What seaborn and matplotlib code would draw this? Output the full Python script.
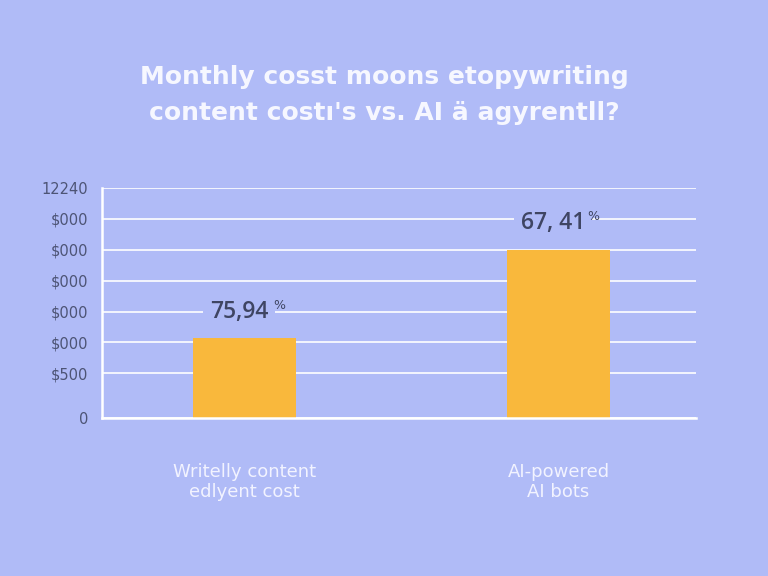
import matplotlib
matplotlib.use("Agg")
import matplotlib.pyplot as plt
import seaborn as sns
import pandas as pd

# data
categories = ["Writelly content\nedlyent cost", "AI-powered\nAI bots"]
costs = [2580, 5450]
bar_labels = ["75,94", "67, 41"]
ytick_values = [0, 1450, 2450, 3450, 4450, 5450, 6450, 7450]
ytick_labels = ["0", "$500", "$000", "$000", "$000", "$000", "$000", "12240"]
title = "Monthly cosst moons etopywriting\ncontent costı's vs. AI ä agyrentll?"

bg = "#b0bbf7"
bar_color = "#f9b83c"
dark = "#3f4563"

sns.set_theme(style="white")
plt.rcParams['font.family'] = ['DejaVu Sans']

df = pd.DataFrame({"category": categories, "cost": costs})

fig = plt.figure(figsize=(7.68, 5.76), dpi=100)
fig.patch.set_facecolor(bg)
ax = fig.add_axes([0.1328, 0.274, 0.7734, 0.3996])
ax.set_facecolor(bg)

sns.barplot(data=df, x="category", y="cost", color=bar_color, width=0.33,
            saturation=1, linewidth=0, ax=ax, zorder=3)

ax.set_xlim(-0.454, 1.438)
ax.set_ylim(0, 7450)
ax.set_yticks(ytick_values)
ax.set_yticklabels(ytick_labels)
ax.yaxis.grid(True, color="white", linewidth=1.4, alpha=0.85, zorder=0)
ax.set_axisbelow(True)

for s in ["top", "right"]:
    ax.spines[s].set_visible(False)
for s in ["left", "bottom"]:
    ax.spines[s].set_color("white")
    ax.spines[s].set_linewidth(1.8)
    ax.spines[s].set_zorder(4)

ax.tick_params(axis="y", length=0, pad=10, labelsize=10.5, labelcolor="#4d5475")
ax.tick_params(axis="x", which="major", length=0, pad=32, labelsize=13,
               labelcolor="#f2f3ff")
ax.set_xticks([-0.377, 0.384, 0.619, 1.377], minor=True)
ax.tick_params(axis="x", which="minor", length=4, width=1.2, color="white",
               direction="inout")
ax.set_xlabel("")
ax.set_ylabel("")

for i, (v, lab) in enumerate(zip(costs, bar_labels)):
    ax.annotate(lab, (i, v), xytext=(-4, 19), textcoords="offset points",
                ha="center", va="center", fontsize=16.5, fontweight="semibold",
                color=dark, family=["Open Sans", "DejaVu Sans"],
                bbox=dict(boxstyle="square,pad=0.3", facecolor=bg, edgecolor="none"),
                zorder=4)
    ax.annotate("%", (i, v), xytext=(25, 24), textcoords="offset points",
                ha="center", va="center", fontsize=9, color=dark, zorder=5)

fig.text(0.5, 0.835, title, ha="center", va="center", fontsize=18,
         fontweight="bold", color="#f6f7ff", linespacing=1.6)

fig.savefig("out.png", dpi=100, facecolor=bg)
